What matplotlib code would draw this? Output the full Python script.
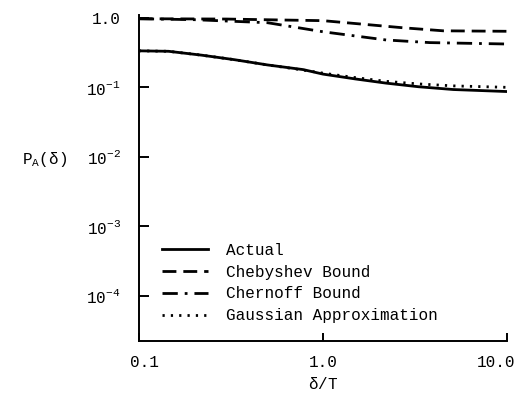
import matplotlib
matplotlib.use('Agg')
import matplotlib.pyplot as plt
from matplotlib.transforms import ScaledTranslation

plt.rcParams['font.family'] = ['Liberation Mono', 'DejaVu Sans Mono']
plt.rcParams['mathtext.fontset'] = 'custom'
plt.rcParams['mathtext.rm'] = 'Liberation Mono'
plt.rcParams['mathtext.it'] = 'Liberation Mono'
plt.rcParams['mathtext.tt'] = 'Liberation Mono'

# delta/T on x, P_A(delta) on y
x_actual = [0.1, 0.145, 0.22, 0.33, 0.5, 0.78, 1.0, 1.5, 2.2, 3.3, 5.1, 10.0]
actual = [0.335, 0.33, 0.29, 0.25, 0.21, 0.18, 0.155, 0.132, 0.115, 0.102, 0.093, 0.087]

x_cheb = [0.1, 0.3, 0.6, 1.0, 2.7, 4.5, 10.0]
chebyshev = [0.97, 0.96, 0.93, 0.91, 0.72, 0.65, 0.64]

x_chern = [0.1, 0.2, 0.5, 1.0, 2.2, 3.8, 10.0]
chernoff = [0.97, 0.94, 0.85, 0.63, 0.48, 0.44, 0.42]

x_gauss = [0.1, 0.145, 0.22, 0.33, 0.5, 0.75, 1.0, 1.5, 2.2, 3.3, 5.1, 10.0]
gaussian = [0.335, 0.33, 0.29, 0.25, 0.21, 0.18, 0.16, 0.138, 0.122, 0.112, 0.105, 0.10]

yticks = [1.0, 1e-1, 1e-2, 1e-3, 1e-4]
ytick_labels = ['1.0', r'$\mathrm{10^{-1}}$', r'$\mathrm{10^{-2}}$', r'$\mathrm{10^{-3}}$', r'$\mathrm{10^{-4}}$']
xticks = [0.1, 1.0, 10.0]
xtick_labels = ['0.1', '1.0', '10.0']

fig = plt.figure(figsize=(5.16, 3.93), dpi=100)
ax = fig.add_axes([0.269, 0.132, 0.714, 0.830])

ax.plot(x_actual, actual, color='black', lw=2, label='Actual')
ax.plot(x_cheb, chebyshev, color='black', lw=2, dashes=(5, 2.5), label='Chebyshev Bound')
ax.plot(x_chern, chernoff, color='black', lw=2, dashes=(5.5, 2.5, 1, 2.5), label='Chernoff Bound')
ax.plot(x_gauss, gaussian, color='black', lw=2, dashes=(0.8, 2.2), label='Gaussian Approximation')

ax.set_xscale('log')
ax.set_yscale('log')
ax.set_xlim(0.1, 10.0)
ax.set_ylim(2.24e-5, 1.1)

ax.spines['top'].set_visible(False)
ax.spines['right'].set_visible(False)
ax.spines['left'].set_linewidth(1.4)
ax.spines['bottom'].set_linewidth(1.4)

ax.set_yticks(yticks)
ax.set_yticklabels(ytick_labels)
ax.set_xticks(xticks)
ax.set_xticklabels(xtick_labels)
ax.minorticks_off()
ax.tick_params(axis='y', direction='in', length=7, width=1.4, labelsize=11.5, pad=13)
ax.tick_params(axis='x', direction='in', length=6, width=1.4, labelsize=11.5, pad=10)

# nudge the end labels like the original
lbls = ax.get_xticklabels()
lbls[0].set_transform(lbls[0].get_transform() + ScaledTranslation(0.06, 0, fig.dpi_scale_trans))
lbls[-1].set_transform(lbls[-1].get_transform() + ScaledTranslation(-0.11, 0, fig.dpi_scale_trans))

ax.set_xlabel(r'$\mathrm{\delta}$/T', fontsize=11.5, labelpad=4)
fig.text(0.042, 0.595, r'$\mathrm{P_A(\delta)}$', fontsize=11.5, ha='left', va='center')

ax.legend(loc='lower left', bbox_to_anchor=(0.063, 0.055), frameon=False, fontsize=11.5,
          handlelength=2.9, handletextpad=1.1, labelspacing=0.42, borderaxespad=0, borderpad=0)

fig.savefig('out.png', dpi=100)
